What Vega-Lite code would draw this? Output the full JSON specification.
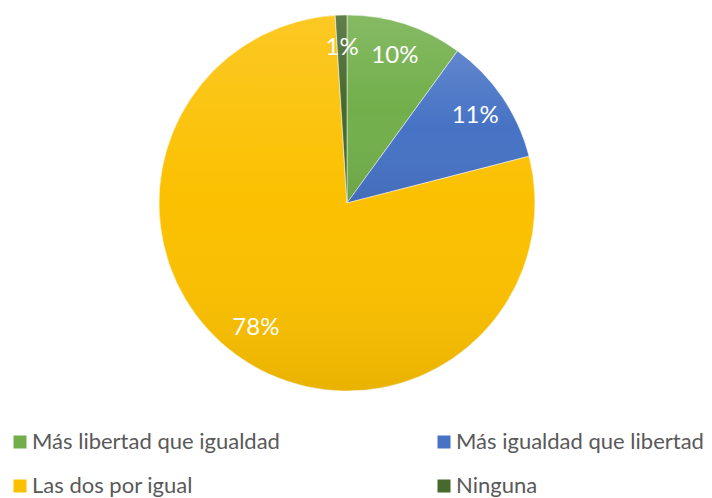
{
  "$schema": "https://vega.github.io/schema/vega-lite/v6.json",
  "width": 694,
  "height": 406,
  "padding": {"left": 0, "top": 0, "right": 18, "bottom": 92},
  "autosize": "none",
  "background": "white",
  "config": {"view": {"stroke": null}},
  "data": {"values": [
    {"categoria": "Más libertad que igualdad", "valor": 10, "orden": 1, "etiqueta": "10%"},
    {"categoria": "Más igualdad que libertad", "valor": 11, "orden": 2, "etiqueta": "11%"},
    {"categoria": "Las dos por igual", "valor": 78, "orden": 3, "etiqueta": "78%"},
    {"categoria": "Ninguna", "valor": 1, "orden": 4, "etiqueta": "1%"}
  ]},
  "encoding": {
    "theta": {"field": "valor", "type": "quantitative", "stack": true},
    "order": {"field": "orden", "type": "quantitative"}
  },
  "layer": [
    {
      "mark": {"type": "arc", "radius": 188, "stroke": "white", "strokeWidth": 0.5},
      "encoding": {
        "color": {
          "field": "categoria",
          "type": "nominal",
          "sort": ["Más libertad que igualdad", "Más igualdad que libertad", "Las dos por igual", "Ninguna"],
          "scale": {
            "domain": ["Más libertad que igualdad", "Más igualdad que libertad", "Las dos por igual", "Ninguna"],
            "range": ["#72AF4B", "#4773C5", "#FBC000", "#46692D"]
          },
          "legend": {
            "title": null,
            "orient": "none",
            "legendX": 9,
            "legendY": 431,
            "direction": "horizontal",
            "columns": 2,
            "columnPadding": 153,
            "rowPadding": 22,
            "symbolType": "square",
            "symbolSize": 169,
            "symbolStrokeWidth": 0,
            "labelOffset": 1,
            "labelFont": "Lato",
            "labelFontSize": 22,
            "labelColor": "#595959",
            "labelLimit": 400,
            "padding": 0
          }
        }
      }
    },
    {
      "mark": {
        "type": "arc",
        "radius": 188,
        "color": {"gradient": "linear", "x1": 0, "y1": 0, "x2": 0, "y2": 1, "stops": [{"offset": 0, "color": "rgba(255,255,255,0.14)"}, {"offset": 0.5, "color": "rgba(255,255,255,0)"}, {"offset": 1, "color": "rgba(0,0,0,0.07)"}]}
      }
    },
    {
      "mark": {"type": "text", "radius": 155, "fill": "white", "font": "Lato", "fontSize": 24},
      "encoding": {
        "text": {"field": "etiqueta", "type": "nominal"}
      }
    }
  ]
}
